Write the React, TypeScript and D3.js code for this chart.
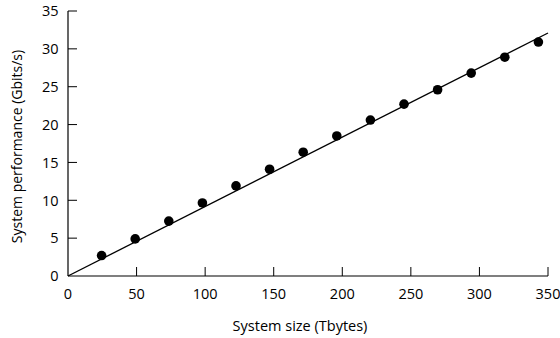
import { scaleLinear, line } from "d3";

const sizes = [24.5, 49, 73.5, 98, 122.5, 147, 171.5, 196, 220.5, 245, 269.5, 294, 318.5, 343];
const perf = [2.7, 4.9, 7.25, 9.65, 11.9, 14.1, 16.35, 18.5, 20.6, 22.7, 24.6, 26.8, 28.9, 30.9];
const fitLine: [number, number][] = [[0, 0], [350, 32.1]];
const xTicks = [0, 50, 100, 150, 200, 250, 300, 350];
const yTicks = [0, 5, 10, 15, 20, 25, 30, 35];

export default function App() {
  const width = 560;
  const height = 338;
  const x = scaleLinear().domain([0, 350]).range([68, 548]);
  const y = scaleLinear().domain([0, 35]).range([276, 11]);
  const path = line<[number, number]>()
    .x((d) => x(d[0]))
    .y((d) => y(d[1]));
  const font = "'Open Sans', sans-serif";

  return (
    <svg
      width={width}
      height={height}
      style={{ position: "absolute", left: 0, top: 0, background: "#fff" }}
      fontFamily={font}
    >
      {/* axes */}
      <line x1={x(0)} x2={x(0)} y1={y(35)} y2={y(0)} stroke="#000" strokeWidth={1.2} />
      <line x1={x(0)} x2={x(350)} y1={y(0)} y2={y(0)} stroke="#000" strokeWidth={1.2} />
      {yTicks.map((t) => (
        <g key={"y" + t}>
          {t > 0 && <line x1={x(0)} x2={x(0) + 9} y1={y(t)} y2={y(t)} stroke="#000" strokeWidth={1} />}
          <text x={58.5} y={y(t)} dy="0.36em" textAnchor="end" fontSize={14.5}>{t}</text>
        </g>
      ))}
      {xTicks.map((t) => (
        <g key={"x" + t}>
          {t > 0 && <line x1={x(t)} x2={x(t)} y1={y(0)} y2={y(0) - 9} stroke="#000" strokeWidth={1} />}
          <text x={x(t)} y={294} dy="0.36em" textAnchor="middle" fontSize={14.5}>{t}</text>
        </g>
      ))}
      <text x={300} y={326} dy="0.33em" textAnchor="middle" fontSize={14.5}>
        System size (Tbytes)
      </text>
      <text
        transform={`translate(17,146.5) rotate(-90)`}
        dy="0.33em"
        textAnchor="middle"
        fontSize={14}
      >
        System performance (Gbits/s)
      </text>

      <path d={path(fitLine) ?? ""} fill="none" stroke="#000" strokeWidth={1.3} />
      {sizes.map((s, i) => (
        <circle key={i} cx={x(s)} cy={y(perf[i])} r={4.8} fill="#000" />
      ))}
    </svg>
  );
}
